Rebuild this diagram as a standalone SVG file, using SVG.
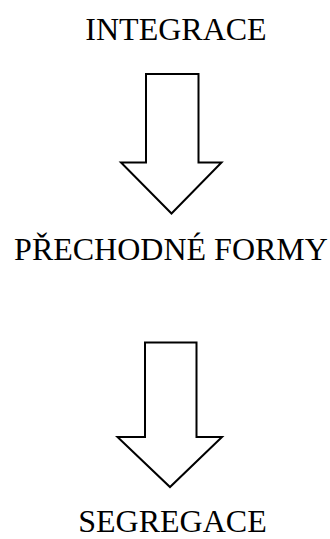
<svg xmlns="http://www.w3.org/2000/svg" width="330" height="539" viewBox="0 0 330 539">
  <style>
    .label { font-family: "Liberation Serif", "Times New Roman", serif; font-size: 32px; fill: #000; text-anchor: middle; }
    .arrow { fill: #fff; stroke: #000; stroke-width: 2; stroke-linejoin: miter; }
  </style>
  <rect width="330" height="539" fill="#fff"/>
  <g id="integrace">
    <text class="label" x="176" y="39.5">INTEGRACE</text>
  </g>
  <g id="prechodne-formy">
    <text class="label" x="171" y="259.5">PŘECHODNÉ FORMY</text>
  </g>
  <g id="segregace">
    <text class="label" x="172.5" y="531.5">SEGREGACE</text>
  </g>
  <g id="connectors">
    <polygon class="arrow" points="146,74 198.5,74 198.5,162.5 221.5,162.5 171.5,213.5 121,162.5 146,162.5"/>
    <polygon class="arrow" points="145,342.5 196.5,342.5 196.5,437 222,437 170,487 117.5,437 145,437"/>
  </g>
</svg>
